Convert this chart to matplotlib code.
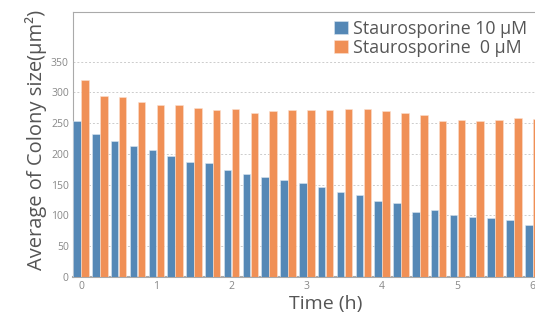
import numpy as np
import matplotlib
matplotlib.use("Agg")
import matplotlib.pyplot as plt

plt.rcParams['font.family'] = ['Open Sans', 'DejaVu Sans']

# time points (h), every 15 min
times = [0, 0.25, 0.5, 0.75, 1, 1.25, 1.5, 1.75, 2, 2.25, 2.5, 2.75, 3,
         3.25, 3.5, 3.75, 4, 4.25, 4.5, 4.75, 5, 5.25, 5.5, 5.75, 6]
stauro_10 = [254, 232, 221, 213, 206, 196, 187, 185, 174, 167, 163, 158, 152,
             147, 138, 134, 124, 121, 105, 109, 100, 98, 96, 92, 85]
stauro_0 = [320, 294, 293, 285, 280, 280, 275, 272, 273, 267, 270, 272, 272,
            272, 273, 273, 270, 267, 263, 254, 255, 254, 255, 258, 257]
labels = ["Staurosporine 10 μM", "Staurosporine  0 μM"]
yticks = [0, 50, 100, 150, 200, 250, 300, 350]
xticks = [0, 1, 2, 3, 4, 5, 6]

blue = "#5588b6"
orange = "#f09056"

fig = plt.figure(figsize=(5.35, 3.15), dpi=100)
ax = fig.add_axes([73/535, 1-277/315, 1-73/535, (277-12)/315])

t = np.array(times)
w = 0.1
ax.bar(t - 0.053, stauro_10, width=w, color=blue, edgecolor="#dbe6f0", linewidth=0.4, label=labels[0], zorder=3)
ax.bar(t + 0.053, stauro_0, width=w, color=orange, edgecolor="#fbe0cf", linewidth=0.4, label=labels[1], zorder=3)

ax.set_xlim(-0.106, 6.03)
ax.set_ylim(0, 430.5)
ax.set_yticks(yticks)
ax.set_xticks(xticks)
ax.tick_params(length=0, labelsize=7.5, labelcolor="#888888", pad=3)
ax.yaxis.grid(True, color="#cccccc", linestyle=(0, (2, 2)), linewidth=0.7, zorder=0)

for s in ["top", "left"]:
    ax.spines[s].set_color("#aaaaaa")
    ax.spines[s].set_linewidth(0.8)
ax.spines["bottom"].set_color("#aaaaaa")
ax.spines["bottom"].set_linewidth(1.5)
ax.spines["right"].set_visible(False)

ax.set_xlabel("Time (h)", fontsize=14, color="#555555")
ax.xaxis.set_label_coords((326-73)/462, -(304-277)/265, transform=ax.transAxes)
ax.xaxis.label.set_verticalalignment("center")
ax.set_ylabel("Average of Colony size(μm²)", fontsize=14.5, color="#555555")
ax.yaxis.set_label_coords(-(73-36)/462, (277-140)/265, transform=ax.transAxes)
ax.yaxis.label.set_verticalalignment("center")

leg = ax.legend(loc="upper right", bbox_to_anchor=(1.0, 1.0), frameon=False, fontsize=12.8,
                handlelength=0.75, handleheight=0.75, handletextpad=0.3, borderpad=0,
                labelspacing=0.05, borderaxespad=0.45, labelcolor="#555555")

fig.savefig("out.png", dpi=100)
